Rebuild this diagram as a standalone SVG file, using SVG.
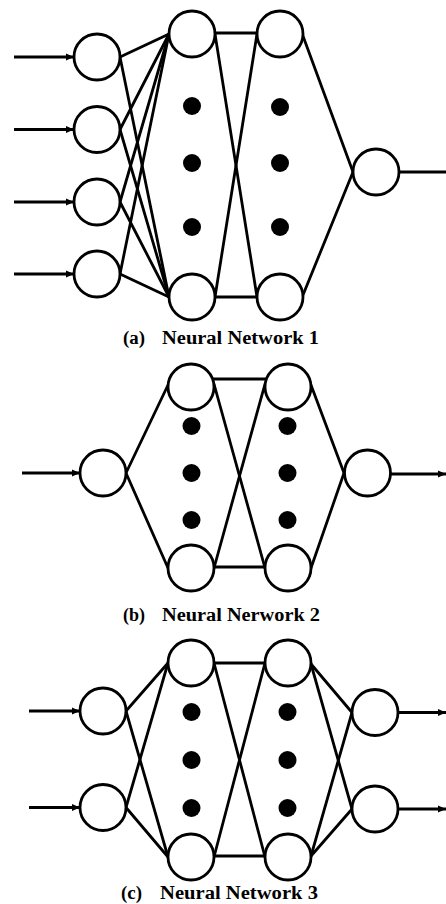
<svg xmlns="http://www.w3.org/2000/svg" width="446" height="904" viewBox="0 0 446 904">
<style>
.n{fill:#fff;stroke:#000;stroke-width:2.8}
.d{fill:#000}
.c{stroke:#000;stroke-width:2.8;fill:none;stroke-linecap:round}
.a{stroke:#000;stroke-width:2.8;fill:none;marker-end:url(#ah)}
.t{font-family:"Liberation Serif","DejaVu Serif",serif;font-size:18.5px;font-weight:bold;fill:#000}
</style>
<defs>
<marker id="ah" markerUnits="userSpaceOnUse" markerWidth="9" markerHeight="8" refX="8" refY="4" orient="auto">
<path d="M0,0.5 L8,4 L0,7.5 z" fill="#000"/>
</marker>
</defs>
<rect width="446" height="904" fill="#fff"/>

<g id="connectors">
<!-- Network 1 -->
<line class="a" x1="14" y1="57" x2="74" y2="57"/>
<line class="a" x1="14" y1="129.5" x2="74" y2="129.5"/>
<line class="a" x1="14" y1="202" x2="74" y2="202"/>
<line class="a" x1="14" y1="274" x2="74" y2="274"/>
<line class="c" x1="120" y1="57" x2="169" y2="34"/>
<line class="c" x1="120" y1="57" x2="169" y2="297"/>
<line class="c" x1="120" y1="129.5" x2="169" y2="34"/>
<line class="c" x1="120" y1="129.5" x2="169" y2="297"/>
<line class="c" x1="120" y1="202" x2="169" y2="34"/>
<line class="c" x1="120" y1="202" x2="169" y2="297"/>
<line class="c" x1="120" y1="274" x2="169" y2="34"/>
<line class="c" x1="120" y1="274" x2="169" y2="297"/>
<line class="c" x1="215" y1="33" x2="257" y2="33"/>
<line class="c" x1="215" y1="297" x2="257" y2="297"/>
<line class="c" x1="215" y1="34" x2="257" y2="297"/>
<line class="c" x1="215" y1="297" x2="257" y2="34"/>
<line class="c" x1="303" y1="36" x2="353" y2="172"/>
<line class="c" x1="303" y1="295" x2="353" y2="172"/>
<line class="c" x1="399" y1="172" x2="446" y2="172"/>

<!-- Network 2 -->
<line class="a" x1="22" y1="473" x2="80" y2="473"/>
<line class="c" x1="126" y1="473" x2="168" y2="385"/>
<line class="c" x1="126" y1="473" x2="168" y2="568"/>
<line class="c" x1="213" y1="379" x2="266" y2="379"/>
<line class="c" x1="214" y1="567" x2="265" y2="567"/>
<line class="c" x1="214" y1="384" x2="265" y2="568"/>
<line class="c" x1="214" y1="568" x2="265" y2="384"/>
<line class="c" x1="311" y1="385" x2="344" y2="473"/>
<line class="c" x1="311" y1="568" x2="344" y2="473"/>
<line class="a" x1="391" y1="474" x2="446" y2="474"/>

<!-- Network 3 -->
<line class="a" x1="29" y1="711" x2="80" y2="711"/>
<line class="a" x1="29" y1="807.5" x2="80" y2="807.5"/>
<line class="c" x1="126" y1="711" x2="168" y2="663"/>
<line class="c" x1="126" y1="711" x2="168" y2="857"/>
<line class="c" x1="126" y1="807.5" x2="168" y2="663"/>
<line class="c" x1="126" y1="807.5" x2="168" y2="857"/>
<line class="c" x1="214" y1="663" x2="265" y2="663"/>
<line class="c" x1="214" y1="856" x2="265" y2="856"/>
<line class="c" x1="214" y1="663" x2="265" y2="857"/>
<line class="c" x1="214" y1="857" x2="265" y2="663"/>
<line class="c" x1="311" y1="664" x2="352" y2="712.5"/>
<line class="c" x1="311" y1="664" x2="352" y2="809"/>
<line class="c" x1="311" y1="856" x2="352" y2="712.5"/>
<line class="c" x1="311" y1="856" x2="352" y2="809"/>
<line class="a" x1="398" y1="712.5" x2="446" y2="712.5"/>
<line class="a" x1="398" y1="809" x2="446" y2="809"/>
</g>

<!-- Network 1 nodes -->
<g id="n1-in1"><circle class="n" cx="97" cy="57" r="23"/></g>
<g id="n1-in2"><circle class="n" cx="97" cy="129.5" r="23"/></g>
<g id="n1-in3"><circle class="n" cx="97" cy="202" r="23"/></g>
<g id="n1-in4"><circle class="n" cx="97" cy="274" r="23"/></g>
<g id="n1-h1-top"><circle class="n" cx="192" cy="34" r="23"/></g>
<g id="n1-h1-bot"><circle class="n" cx="192" cy="297" r="23"/></g>
<g id="n1-h2-top"><circle class="n" cx="280" cy="34" r="23"/></g>
<g id="n1-h2-bot"><circle class="n" cx="280" cy="297" r="23"/></g>
<g id="n1-h1-dots"><circle class="d" cx="192" cy="106" r="9"/><circle class="d" cx="192" cy="163" r="9"/><circle class="d" cx="192" cy="227" r="9"/></g>
<g id="n1-h2-dots"><circle class="d" cx="280" cy="107" r="9"/><circle class="d" cx="280" cy="163" r="9"/><circle class="d" cx="280" cy="227" r="9"/></g>
<g id="n1-out"><circle class="n" cx="376" cy="172" r="23"/></g>
<g id="cap-a"><text class="t" x="123" y="344" textLength="22" lengthAdjust="spacingAndGlyphs">(a)</text><text class="t" x="162" y="344" textLength="157" lengthAdjust="spacingAndGlyphs">Neural Network 1</text></g>

<!-- Network 2 nodes -->
<g id="n2-in"><circle class="n" cx="103" cy="473" r="23"/></g>
<g id="n2-h1-top"><circle class="n" cx="191" cy="387" r="23"/></g>
<g id="n2-h1-bot"><circle class="n" cx="191" cy="568" r="23"/></g>
<g id="n2-h2-top"><circle class="n" cx="288" cy="387" r="23"/></g>
<g id="n2-h2-bot"><circle class="n" cx="288" cy="568" r="23"/></g>
<g id="n2-h1-dots"><circle class="d" cx="191.5" cy="426" r="9"/><circle class="d" cx="191.5" cy="473" r="9"/><circle class="d" cx="191.5" cy="520" r="9"/></g>
<g id="n2-h2-dots"><circle class="d" cx="287.5" cy="426" r="9"/><circle class="d" cx="287.5" cy="473" r="9"/><circle class="d" cx="287.5" cy="520" r="9"/></g>
<g id="n2-out"><circle class="n" cx="367.5" cy="473" r="23"/></g>
<g id="cap-b"><text class="t" x="123" y="621" textLength="22" lengthAdjust="spacingAndGlyphs">(b)</text><text class="t" x="162" y="621" textLength="158" lengthAdjust="spacingAndGlyphs">Neural Nerwork 2</text></g>

<!-- Network 3 nodes -->
<g id="n3-in1"><circle class="n" cx="103" cy="711" r="23"/></g>
<g id="n3-in2"><circle class="n" cx="103" cy="807.5" r="23"/></g>
<g id="n3-h1-top"><circle class="n" cx="191" cy="663" r="23"/></g>
<g id="n3-h1-bot"><circle class="n" cx="191" cy="857" r="23"/></g>
<g id="n3-h2-top"><circle class="n" cx="288" cy="663" r="23"/></g>
<g id="n3-h2-bot"><circle class="n" cx="288" cy="857" r="23"/></g>
<g id="n3-h1-dots"><circle class="d" cx="191.5" cy="712" r="9"/><circle class="d" cx="191.5" cy="760" r="9"/><circle class="d" cx="191.5" cy="808" r="9"/></g>
<g id="n3-h2-dots"><circle class="d" cx="287.5" cy="712" r="9"/><circle class="d" cx="287.5" cy="760" r="9"/><circle class="d" cx="287.5" cy="808" r="9"/></g>
<g id="n3-out1"><circle class="n" cx="375" cy="712.5" r="23"/></g>
<g id="n3-out2"><circle class="n" cx="375" cy="809" r="23"/></g>
<g id="cap-c"><text class="t" x="121" y="899" textLength="21" lengthAdjust="spacingAndGlyphs">(c)</text><text class="t" x="160" y="899" textLength="158" lengthAdjust="spacingAndGlyphs">Neural Network 3</text></g>
</svg>
